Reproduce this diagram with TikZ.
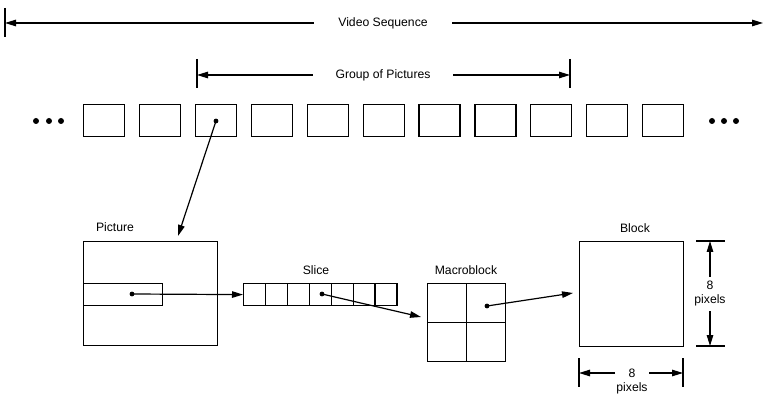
\documentclass[tikz,border=0pt]{standalone}
\usepackage{fontspec}
\setmainfont{Liberation Sans}
\usetikzlibrary{arrows.meta,positioning}

\begin{document}
\begin{tikzpicture}[x=1pt,y=-1pt,line width=1.2pt,
  every node/.style={font=\fontsize{12.2}{14}\selectfont},
  frame/.style={draw,minimum width=41pt,minimum height=32pt,inner sep=0pt,anchor=north west},
  cell/.style={draw,minimum width=21.9pt,minimum height=22pt,inner sep=0pt,anchor=north west},
  quad/.style={draw,minimum size=39pt,inner sep=0pt,anchor=north west},
  dot/.style={circle,fill,inner sep=0pt,minimum size=4.8pt},
  bigdot/.style={circle,fill,inner sep=0pt,minimum size=6pt},
  arr/.style={-{Triangle[length=11pt,width=6.5pt]}},
  gap/.style={inner xsep=#1,inner ysep=0pt}]
  \useasboundingbox (0,0) rectangle (763,395);

  % video sequence
  \coordinate (vsA) at (5,8);
  \coordinate (vsB) at (5,37);
  \coordinate (vsL) at (5,23);
  \coordinate (vsR) at (763,23);
  \node[gap=24pt] (vs) at (383,23) {Video Sequence};
  \draw (vsA) -- (vsB);
  \draw[arr] (vs) -- (vsL);
  \draw[arr] (vs) -- (vsR);

  % group of pictures
  \coordinate (gpA) at (197,59);
  \coordinate (gpB) at (197,88);
  \coordinate (gpC) at (570,59);
  \coordinate (gpD) at (570,88);
  \coordinate (gpL) at (197,75);
  \coordinate (gpR) at (570,75);
  \node[gap=22pt] (gp) at (383,75) {Group of Pictures};
  \draw (gpA) -- (gpB);
  \draw (gpC) -- (gpD);
  \draw[arr] (gp) -- (gpL);
  \draw[arr] (gp) -- (gpR);

  % row of pictures
  \foreach \i in {1,...,11}
    \node[frame] (f\i) at ({83+55.9*(\i-1)},104) {};
  \foreach \x in {36,49,61}
    \node[bigdot] at (\x,121) {};
  \foreach \x in {712,724,736}
    \node[bigdot] at (\x,121) {};

  % picture
  \node[draw,minimum width=134pt,minimum height=104pt,inner sep=0pt,anchor=north west] (pic) at (83,241) {};
  \node (piclbl) at (115,227) {Picture};
  \node[draw,minimum width=79pt,minimum height=22pt,inner sep=0pt,anchor=north west] (pslice) at (83,283) {};
  \node[dot] (d1) at (216,121) {};
  \coordinate (picin) at (178,236);
  \draw[arr] (d1.center) -- (picin);

  % slice
  \foreach \i in {1,...,7}
    \node[cell] (s\i) at ({243+21.9*(\i-1)},283) {};
  \node (slicelbl) at (316,270) {Slice};
  \node[dot] (d2) at (132,294) {};
  \draw[arr] (d2.center) -- (s1.west);

  % macroblock
  \node[quad] (m11) at (427,283) {};
  \node[quad] (m12) at (466,283) {};
  \node[quad] (m21) at (427,322) {};
  \node[quad] (m22) at (466,322) {};
  \node (mblbl) at (466,270) {Macroblock};
  \node[dot] (d3) at (322,294) {};
  \coordinate (mbin) at (421,317);
  \draw[arr] (d3.center) -- (mbin);

  % block
  \node[draw,minimum width=104pt,minimum height=105pt,inner sep=0pt,anchor=north west] (blk) at (579,241) {};
  \node (blklbl) at (635,228) {Block};
  \node[dot] (d4) at (487,306) {};
  \coordinate (blkin) at (573,293);
  \draw[arr] (d4.center) -- (blkin);

  % block size, vertical
  \coordinate (vtA) at (696,241);
  \coordinate (vtB) at (725,241);
  \coordinate (vtC) at (696,346);
  \coordinate (vtD) at (725,346);
  \coordinate (vtT) at (710,241);
  \coordinate (vtU) at (710,346);
  \node[align=center,inner sep=4pt] (vdim) at (710,294) {8\\pixels};
  \draw (vtA) -- (vtB);
  \draw (vtC) -- (vtD);
  \draw[arr] (vdim) -- (vtT);
  \draw[arr] (vdim) -- (vtU);

  % block size, horizontal
  \coordinate (htA) at (579,358);
  \coordinate (htB) at (579,387);
  \coordinate (htC) at (683,358);
  \coordinate (htD) at (683,387);
  \coordinate (htL) at (579,373);
  \coordinate (htR) at (683,373);
  \node[gap=13pt] (hdim) at (632,373) {8};
  \node (hpix) at (632,388) {pixels};
  \draw (htA) -- (htB);
  \draw (htC) -- (htD);
  \draw[arr] (hdim) -- (htL);
  \draw[arr] (hdim) -- (htR);
\end{tikzpicture}
\end{document}
